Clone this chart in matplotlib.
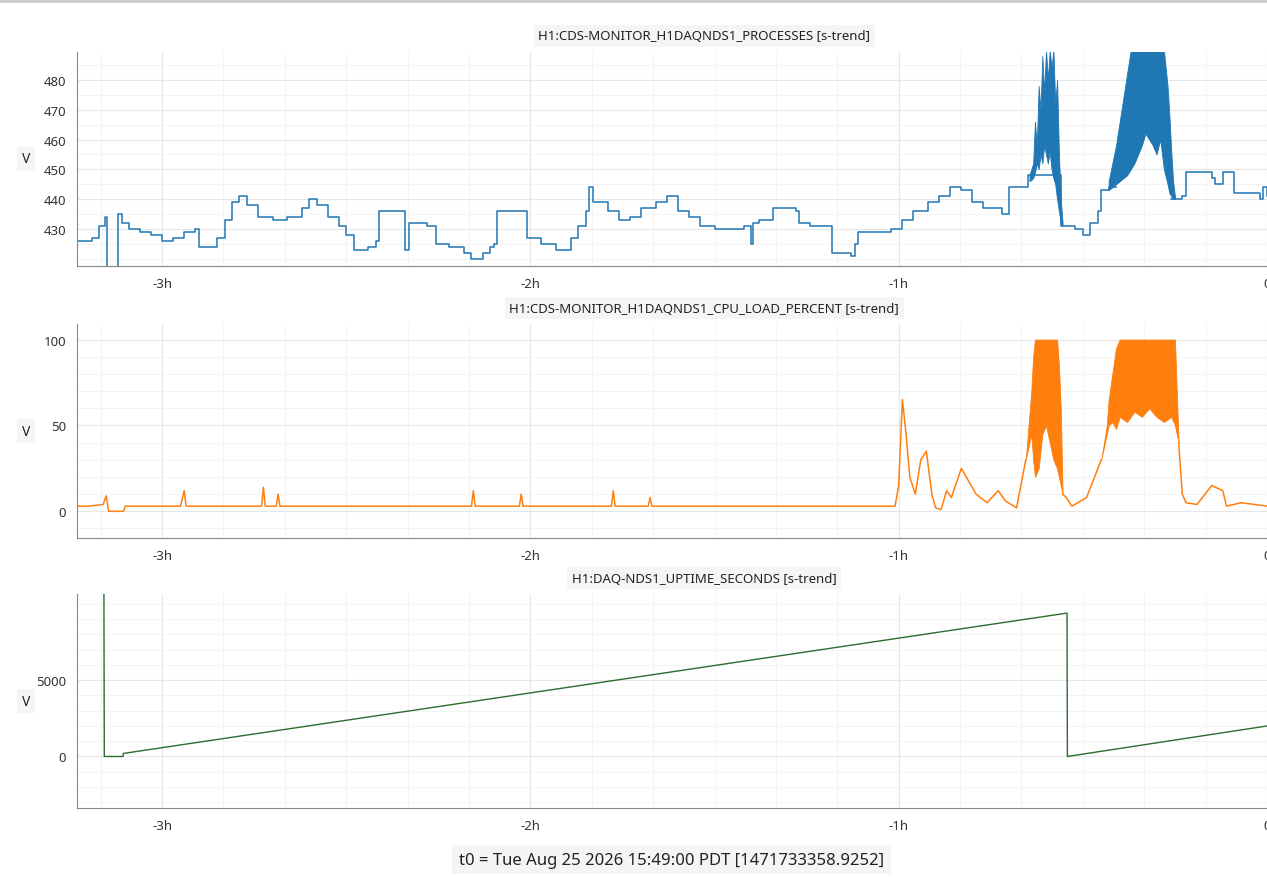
import matplotlib.pyplot as plt
from matplotlib.ticker import MultipleLocator, FuncFormatter, FixedLocator

plt.rcParams['font.family'] = ['Noto Sans', 'DejaVu Sans']

NAN = float('nan')  # gap where the envelope band takes over

# time axis in hours relative to t0
T_MIN, T_MAX = -3.231, 0.0

# --- H1:CDS-MONITOR_H1DAQNDS1_PROCESSES ---
proc_t = [-3.231, -3.19, -3.17, -3.155, -3.15, -3.12, -3.11, -3.09, -3.06, -3.03, -3.00, -2.97, -2.94,
          -2.91, -2.90, -2.87, -2.85, -2.83, -2.81, -2.79, -2.77, -2.74, -2.70, -2.66, -2.62, -2.60,
          -2.58, -2.55, -2.52, -2.50, -2.48, -2.44, -2.42, -2.41, -2.35, -2.34, -2.33, -2.28, -2.26,
          -2.255, -2.22, -2.18, -2.16, -2.13, -2.11, -2.10, -2.09, -2.02, -2.01, -1.97, -1.93, -1.91,
          -1.89, -1.87, -1.85, -1.84, -1.83, -1.79, -1.76, -1.73, -1.70, -1.66, -1.63, -1.60, -1.57,
          -1.54, -1.50, -1.46, -1.42, -1.40, -1.395, -1.38, -1.34, -1.28, -1.27, -1.24, -1.19, -1.18,
          -1.15, -1.13, -1.12, -1.11, -1.06, -1.02, -0.99, -0.96, -0.92, -0.89, -0.86, -0.83, -0.80,
          -0.77, -0.72, -0.70, -0.67, -0.65, -0.63, -0.56, -0.52, -0.50, -0.48, -0.46, -0.45, -0.43,
          -0.41, -0.26, -0.23, -0.22, -0.17, -0.15, -0.14, -0.12, -0.10, -0.09, -0.04, -0.02, -0.01, 0.0]
proc_v = [426, 427, 431, 434, 415, 435, 432, 430, 429, 428, 426, 427, 429,
          430, 424, 424, 427, 433, 439, 441, 438, 434, 433, 434, 437, 440,
          438, 434, 431, 428, 423, 424, 426, 436, 436, 423, 432, 431, 431,
          425, 424, 422, 420, 422, 424, 425, 436, 436, 427, 425, 423, 423,
          427, 431, 436, 444, 439, 436, 433, 434, 437, 439, 441, 436, 434,
          431, 430, 430, 431, 425, 432, 433, 437, 436, 432, 431, 431, 422,
          422, 421, 425, 429, 429, 430, 433, 436, 439, 441, 444, 443, 439,
          437, 435, 444, 444, 448, 448, 431, 430, 428, 432, 436, 443, 444,
          NAN, 440, 441, 449, 449, 447, 445, 449, 449, 442, 442, 440, 444, 441]
# oscillating stretches drawn as min/max envelopes
proc_b1_t = [-0.645, -0.635, -0.63, -0.625, -0.62, -0.615, -0.61, -0.605, -0.60, -0.595, -0.59,
             -0.585, -0.58, -0.575, -0.57, -0.565, -0.56, -0.555]
proc_b1_lo = [446, 447, 449, 452, 450, 455, 452, 458, 455, 452, 456, 450, 447, 445, 440, 436, 432, 431]
proc_b1_hi = [448, 452, 466, 458, 478, 470, 488, 476, 490, 480, 490, 484, 490, 472, 480, 455, 440, 432]
proc_b2_t = [-0.43, -0.42, -0.41, -0.40, -0.39, -0.38, -0.37, -0.36, -0.35, -0.34, -0.33, -0.32,
             -0.31, -0.30, -0.29, -0.28, -0.27, -0.265, -0.26, -0.255, -0.25]
proc_b2_lo = [443, 444, 445, 446, 447, 448, 450, 452, 455, 458, 462, 460, 458, 455, 460, 450, 445, 442, 441, 440, 440]
proc_b2_hi = [446, 452, 458, 466, 474, 482, 490, 490, 490, 490, 490, 490, 490, 490, 490, 490, 478, 468, 456, 446, 441]

# --- H1:CDS-MONITOR_H1DAQNDS1_CPU_LOAD_PERCENT ---
cpu_t = [-3.231, -3.20, -3.16, -3.152, -3.148, -3.145, -3.105, -3.10, -2.95, -2.94, -2.935, -2.73,
         -2.725, -2.72, -2.69, -2.685, -2.68, -2.16, -2.155, -2.15, -2.03, -2.025, -2.02, -1.78,
         -1.775, -1.77, -1.68, -1.675, -1.67, -1.01, -1.00, -0.99, -0.98, -0.97, -0.955, -0.94,
         -0.925, -0.91, -0.90, -0.885, -0.87, -0.857, -0.83, -0.79, -0.76, -0.73, -0.71, -0.68,
         -0.655, -0.64, -0.555, -0.545, -0.53, -0.49, -0.45, -0.435, -0.24, -0.23, -0.22,
         -0.19, -0.15, -0.12, -0.11, -0.07, 0.0]
cpu_v = [3, 3, 4, 9, 4, 0, 0, 3, 3, 12, 3, 3,
         14, 3, 3, 10, 3, 3, 12, 3, 3, 10, 3, 3,
         12, 3, 3, 8, 3, 3, 15, 65, 45, 20, 10, 30,
         35, 10, 2, 1, 12, 8, 25, 10, 5, 12, 6, 2,
         30, NAN, 10, 8, 3, 8, 30, NAN, 40, 10, 5,
         4, 15, 12, 3, 5, 3]
cpu_b1_t = [-0.655, -0.64, -0.635, -0.63, -0.62, -0.61, -0.60, -0.59, -0.58, -0.57, -0.565, -0.56, -0.555]
cpu_b1_lo = [30, 45, 30, 20, 25, 45, 50, 40, 30, 25, 20, 15, 10]
cpu_b1_hi = [30, 70, 90, 100, 100, 100, 100, 100, 100, 100, 85, 60, 10]
cpu_b2_t = [-0.45, -0.435, -0.43, -0.42, -0.41, -0.40, -0.38, -0.36, -0.34, -0.32, -0.30, -0.28, -0.26,
            -0.25, -0.245, -0.24]
cpu_b2_lo = [30, 45, 50, 52, 48, 55, 52, 58, 55, 60, 55, 52, 55, 50, 45, 40]
cpu_b2_hi = [30, 50, 65, 80, 95, 100, 100, 100, 100, 100, 100, 100, 100, 100, 70, 40]

# --- H1:DAQ-NDS1_UPTIME_SECONDS ---
up_t = [-3.158, -3.157, -3.106, -3.105, -0.543, -0.542, 0.0]
up_v = [10700, 0, 0, 200, 9400, 0, 2000]

titles = ['H1:CDS-MONITOR_H1DAQNDS1_PROCESSES [s-trend]',
          'H1:CDS-MONITOR_H1DAQNDS1_CPU_LOAD_PERCENT [s-trend]',
          'H1:DAQ-NDS1_UPTIME_SECONDS [s-trend]']
ylims = [(417.6, 489.4), (-15.6, 109), (-3377, 10650)]
yticks = [[430, 440, 450, 460, 470, 480], [0, 50, 100], [0, 5000]]
ymin = [5, 10, 1000]
colors = ['#1f77b4', '#ff7f0e', '#2e6b2e']
box = dict(facecolor='#f5f5f5', edgecolor='none', boxstyle='square,pad=0.35')

fig = plt.figure(figsize=(12.67, 8.78), dpi=100)
bottoms = [0.696, 0.386, 0.0786]
axes = [fig.add_axes([0.0608, b, 0.9392, 0.2437]) for b in bottoms]

def hour_fmt(v, pos):
    return '0' if abs(v) < 1e-9 else f'{int(round(v))}h'

for i, ax in enumerate(axes):
    ax.set_xlim(T_MIN, T_MAX)
    ax.set_ylim(*ylims[i])
    ax.xaxis.set_major_locator(MultipleLocator(1))
    ax.xaxis.set_minor_locator(MultipleLocator(1 / 6))
    ax.xaxis.set_major_formatter(FuncFormatter(hour_fmt))
    ax.yaxis.set_major_locator(FixedLocator(yticks[i]))
    ax.yaxis.set_minor_locator(MultipleLocator(ymin[i]))
    ax.grid(which='major', color='#e6e6e6', lw=0.8)
    ax.grid(which='minor', color='#f2f2f2', lw=0.6)
    ax.set_axisbelow(True)
    for s in ['top', 'right']:
        ax.spines[s].set_visible(False)
    for s in ['left', 'bottom']:
        ax.spines[s].set_color('#888888')
    ax.tick_params(which='both', length=0, labelsize=9.5, colors='#333333', pad=8)
    ax.set_title(titles[i], fontsize=9.5, color='#222222', pad=9, bbox=box, x=0.527)
    ax.set_ylabel('V', rotation=0, fontsize=10, color='#222222', va='center', bbox=box)
    ax.yaxis.set_label_coords(-0.043, 0.5)

ax = axes[0]
ax.plot(proc_t, proc_v, drawstyle='steps-post', color=colors[0], lw=1.1)
ax.fill_between(proc_b1_t, proc_b1_lo, proc_b1_hi, color=colors[0], lw=0.6)
ax.fill_between(proc_b2_t, proc_b2_lo, proc_b2_hi, color=colors[0], lw=0.6)

ax = axes[1]
ax.plot(cpu_t, cpu_v, color=colors[1], lw=1.1)
ax.fill_between(cpu_b1_t, cpu_b1_lo, cpu_b1_hi, color=colors[1], lw=0.6)
ax.fill_between(cpu_b2_t, cpu_b2_lo, cpu_b2_hi, color=colors[1], lw=0.6)

axes[2].plot(up_t, up_v, color=colors[2], lw=1.0)

fig.text(0.53, 0.015, 't0 = Tue Aug 25 2026 15:49:00 PDT [1471733358.9252]', ha='center',
         fontsize=12, color='#222222', bbox=dict(facecolor='#f5f5f5', edgecolor='none', boxstyle='square,pad=0.4'))
fig.add_artist(plt.Line2D([0, 1], [0.998, 0.998], color='#cccccc', lw=2))

fig.savefig('out.png', dpi=100)
